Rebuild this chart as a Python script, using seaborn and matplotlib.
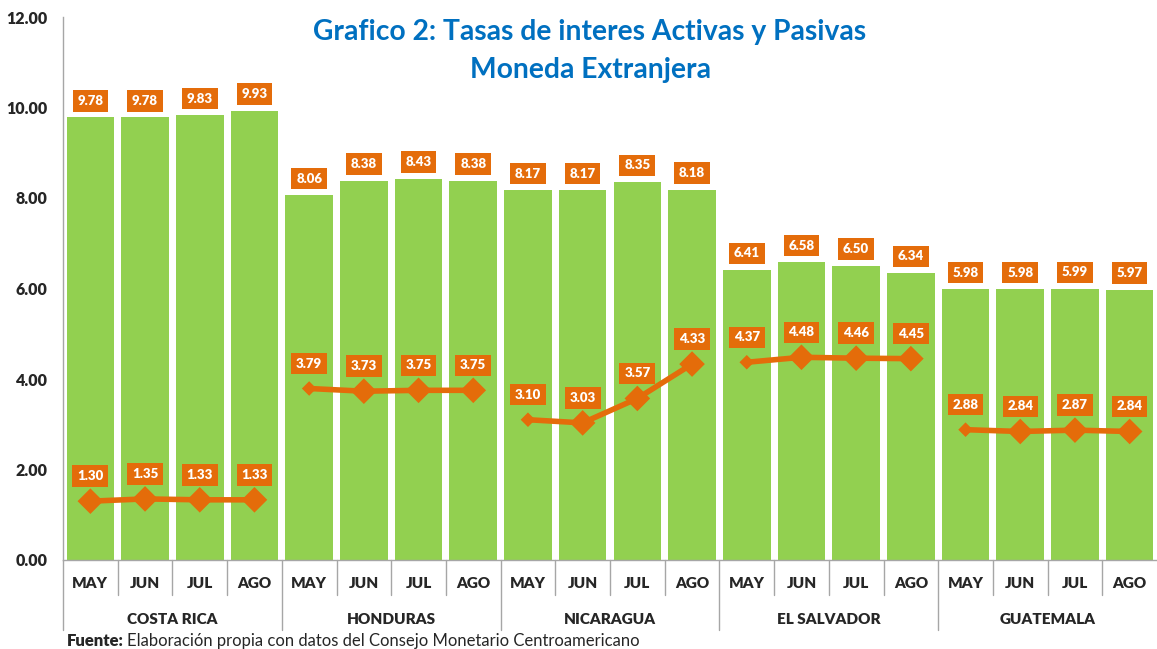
import pandas as pd
import numpy as np
import matplotlib
matplotlib.use("Agg")
import matplotlib.pyplot as plt
import matplotlib.transforms as mtransforms
import seaborn as sns

# ----------------------------
# Datos
# ----------------------------
paises = ["COSTA RICA", "HONDURAS", "NICARAGUA", "EL SALVADOR", "GUATEMALA"]
meses = ["MAY", "JUN", "JUL", "AGO"]

activa = [9.78, 9.78, 9.83, 9.93,
          8.06, 8.38, 8.43, 8.38,
          8.17, 8.17, 8.35, 8.18,
          6.41, 6.58, 6.50, 6.34,
          5.98, 5.98, 5.99, 5.97]

pasiva = [1.30, 1.35, 1.33, 1.33,
          3.79, 3.73, 3.75, 3.75,
          3.10, 3.03, 3.57, 4.33,
          4.37, 4.48, 4.46, 4.45,
          2.88, 2.84, 2.87, 2.84]

VERDE = "#92D050"
NARANJA = "#E46C0A"
AZUL = "#0070C0"
GRIS = "#A6A6A6"
NEGRITA = "heavy"

df = pd.DataFrame({
    "pais": np.repeat(paises, len(meses)),
    "mes": meses * len(paises),
    "activa": activa,
    "pasiva": pasiva,
})
df["key"] = df["pais"] + "|" + df["mes"]
df["pos"] = np.arange(len(df))
# el primer punto de cada pais (salvo Costa Rica) sale con marcador pequeño
df["chico"] = (df["mes"] == "MAY") & (df["pais"] != "COSTA RICA")

# ----------------------------
# Figura
# ----------------------------
sns.set_style("white")
plt.rcParams["font.family"] = ["Lato", "DejaVu Sans"]

fig = plt.figure(figsize=(11.57, 6.49), dpi=100)
ax = fig.add_axes([63 / 1157, 1 - 560 / 649, 1 - 63 / 1157, (560 - 17) / 649])

sns.barplot(data=df, x="key", y="activa", order=df["key"], color=VERDE,
            width=0.87, saturation=1, ax=ax, edgecolor="none")

sns.lineplot(data=df, x="pos", y="pasiva", units="pais", estimator=None,
             color=NARANJA, linewidth=4, ax=ax, legend=False, sort=False)
sns.scatterplot(data=df, x="pos", y="pasiva", size="chico",
                sizes={False: 170, True: 55}, marker="D", color=NARANJA,
                edgecolor="none", ax=ax, legend=False, zorder=5)

# etiquetas de datos
caja = dict(boxstyle="square,pad=0.36", fc=NARANJA, ec="none")
for i, row in df.iterrows():
    ax.annotate(f"{row['activa']:.2f}", (row["pos"], row["activa"]),
                xytext=(0, 12), textcoords="offset points", ha="center",
                va="center", color="white", fontsize=9.5, fontweight=NEGRITA,
                bbox=caja, zorder=6)
    ax.annotate(f"{row['pasiva']:.2f}", (row["pos"], row["pasiva"]),
                xytext=(0, 18), textcoords="offset points", ha="center",
                va="center", color="white", fontsize=9.5, fontweight=NEGRITA,
                bbox=caja, zorder=6)

# ejes
ax.set_ylim(0, 12)
ax.set_xlim(-0.5, len(df) - 0.5)
ax.set_yticks(np.arange(0, 13, 2))
ax.set_yticklabels([f"{v:.2f}" for v in np.arange(0, 13, 2)],
                   fontsize=11.5, fontweight=NEGRITA)
ax.tick_params(axis="y", direction="out", length=7, color=GRIS, width=1, pad=4)
ax.set_xticks([])
ax.set_xlabel("")
ax.set_ylabel("")
for s in ["top", "right"]:
    ax.spines[s].set_visible(False)
for s in ["left", "bottom"]:
    ax.spines[s].set_color(GRIS)
    ax.spines[s].set_linewidth(1)

# eje de categorias en dos niveles
trans = mtransforms.blended_transform_factory(ax.transData, ax.transAxes)
for i, row in df.iterrows():
    ax.text(row["pos"], -0.044, row["mes"], transform=trans, ha="center",
            va="center", fontsize=11, fontweight=NEGRITA)
    if row["mes"] == "MAY":
        y_fin = -0.129
    else:
        y_fin = -0.064
    ax.plot([row["pos"] - 0.5] * 2, [0, y_fin], transform=trans, color=GRIS,
            lw=1, clip_on=False)
for k, p in enumerate(paises):
    centro = df.loc[df["pais"] == p, "pos"].mean()
    ax.text(centro, -0.109, p, transform=trans, ha="center", va="center",
            fontsize=11, fontweight=NEGRITA)

# titulo
fig.text(590 / 1157, 1 - 32 / 649, "Grafico 2: Tasas de interes Activas y Pasivas",
         ha="center", va="center", color=AZUL, fontsize=20.3, fontweight="bold")
fig.text(590 / 1157, 1 - 70 / 649, "Moneda Extranjera",
         ha="center", va="center", color=AZUL, fontsize=20.3, fontweight="bold")

# fuente
t1 = fig.text(67 / 1157, 1 - 641 / 649, "Fuente:", ha="left", va="center",
              fontsize=12, fontweight=NEGRITA)
fig.canvas.draw()
bb = t1.get_window_extent()
fig.text(bb.x1 / fig.bbox.width + 0.003, 1 - 641 / 649,
         "Elaboración propia con datos del Consejo Monetario Centroamericano",
         ha="left", va="center", fontsize=12)

fig.savefig("out.png", dpi=100)
